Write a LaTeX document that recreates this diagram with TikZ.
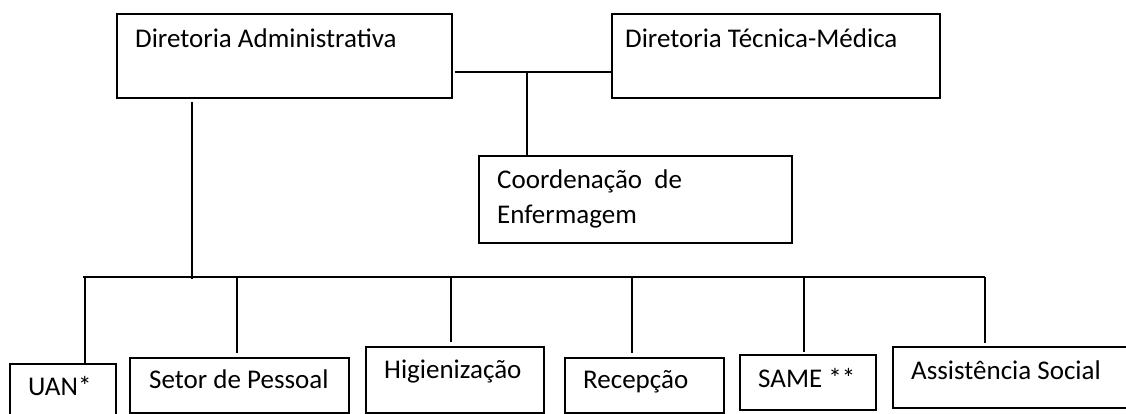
\documentclass[tikz,border=0pt]{standalone}
\usepackage{fontspec}
\setmainfont{Carlito}
\begin{document}
\begin{tikzpicture}[x=1pt,y=-1pt,
  orgbox/.style={draw=black,line width=1.8pt,rectangle,inner sep=0pt,anchor=north west},
  lbl/.style={anchor=base west,inner sep=0pt,font=\fontsize{27}{32}\selectfont},
  conn/.style={draw=black,line width=1.8pt}]
\useasboundingbox (0,0) rectangle (1126,413);
% boxes
\node[orgbox,minimum width=335pt,minimum height=84pt] (da) at (116,13) {};
\node[orgbox,minimum width=328pt,minimum height=84pt] (dtm) at (611,13) {};
\node[orgbox,minimum width=313pt,minimum height=87pt] (coord) at (478,155) {};
\node[orgbox,minimum width=106pt,minimum height=70pt] (uan) at (9,363) {};
\node[orgbox,minimum width=219pt,minimum height=55pt] (setor) at (129,357) {};
\node[orgbox,minimum width=178pt,minimum height=66pt] (hig) at (365,346) {};
\node[orgbox,minimum width=159pt,minimum height=55pt] (rec) at (564,357) {};
\node[orgbox,minimum width=136pt,minimum height=55pt] (same) at (739,354) {};
\node[orgbox,minimum width=250pt,minimum height=61pt] (assist) at (892,346) {};
% labels
\node[lbl] (dat) at (135,47) {Diretoria Administrativa};
\node[lbl] (dtmt) at (625,47) {Diretoria Técnica-Médica};
\node[lbl] (coordt1) at (497,188) {Coordenação\ \ de};
\node[lbl] (coordt2) at (497,223) {Enfermagem};
\node[lbl] (uant) at (28,395) {UAN*};
\node[lbl] (setort) at (149,388) {Setor de Pessoal};
\node[lbl] (higt) at (384,378) {Higienização};
\node[lbl] (rect) at (583,388) {Recepção};
\node[lbl] (samet) at (758,387) {SAME **};
\node[lbl] (assistt) at (911,379) {Assistência Social};
% junction coordinates
\coordinate (h) at (527,72);
\coordinate (j0) at (192,277);
\coordinate (busL) at (83,277);
\coordinate (busR) at (985,277);
\coordinate (b1) at (85,277);
\coordinate (b2) at (237,277);
\coordinate (b3) at (451,277);
\coordinate (b4) at (632,277);
\coordinate (b5) at (804,277);
\coordinate (b6) at (985,277);
% connectors
\draw[conn,shorten <=2pt] (da.east |- h) -- (dtm.west |- h);
\draw[conn] (h) -- (coord.north -| h);
\draw[conn,shorten <=3pt,shorten >=-2pt] (da.south -| j0) -- (j0);
\draw[conn] (busL) -- (busR);
\draw[conn] (b1) -- (uan.north -| b1);
\draw[conn,shorten >=4pt] (b2) -- (setor.north -| b2);
\draw[conn,shorten >=4pt] (b3) -- (hig.north -| b3);
\draw[conn,shorten >=4pt] (b4) -- (rec.north -| b4);
\draw[conn,shorten >=2pt] (b5) -- (same.north -| b5);
\draw[conn,shorten >=3pt] (b6) -- (assist.north -| b6);
\end{tikzpicture}
\end{document}
